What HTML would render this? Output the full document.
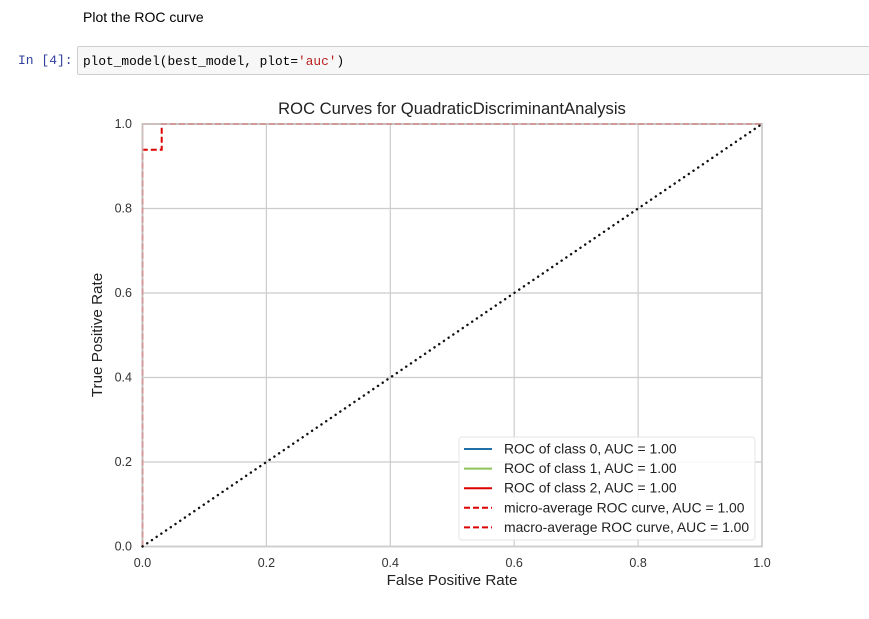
<!DOCTYPE html>
<html><head><meta charset="utf-8"><style>
body{margin:0;background:#fff;width:869px;height:619px;overflow:hidden;font-family:"Liberation Sans",sans-serif;position:relative}
.md{position:absolute;left:83px;top:9px;font-size:14px;color:#000}
.prompt{position:absolute;left:18px;top:53px;font-family:"Liberation Mono",monospace;font-size:13px;color:#303f9f}
.cell{position:absolute;left:77px;top:46px;width:800px;height:29px;background:#f7f7f7;border:1px solid #cfcfcf;border-radius:2px;font-family:"Liberation Mono",monospace;font-size:12.8px;line-height:29px;padding-left:5px;box-sizing:border-box}
</style></head><body>
<div class="md">Plot the ROC curve</div>
<div class="prompt">In [4]:</div>
<div class="cell">plot_model(best_model, plot=<span style="color:#ba2121">'auc'</span>)</div>
<svg id="chart" width="869" height="619" style="position:absolute;left:0;top:0"></svg>
<script>
const ticks=[0,0.2,0.4,0.6,0.8,1.0];
const tickLabels=["0.0","0.2","0.4","0.6","0.8","1.0"];
const class0X=[0,0,1];const class0Y=[0,1,1];
const class1X=[0,0,1];const class1Y=[0,1,1];
const class2X=[0,0,1];const class2Y=[0,1,1];
const microX=[0,0,1];const microY=[0,1,1];
const macroX=[0,0,0.031,0.031,1];const macroY=[0,0.939,0.939,1,1];
const diagX=[0,1];const diagY=[0,1];
const legendLabels=["ROC of class 0, AUC = 1.00","ROC of class 1, AUC = 1.00","ROC of class 2, AUC = 1.00","micro-average ROC curve, AUC = 1.00","macro-average ROC curve, AUC = 1.00"];
const X0=142.5,X1=762,Y0=546.5,Y1=124;
const sx=v=>X0+v*(X1-X0), sy=v=>Y0-v*(Y0-Y1);
const svg=document.getElementById('chart');const NS='http://www.w3.org/2000/svg';
function mk(t,a,p){const e=document.createElementNS(NS,t);for(const k in a)e.setAttribute(k,a[k]);(p||svg).appendChild(e);return e;}
ticks.forEach((t,i)=>{
 let g=mk('line',{x1:sx(t),x2:sx(t),y1:Y1,y2:Y0,stroke:'#cccccc','stroke-width':1.2});
 
 
 g=mk('line',{x1:X0,x2:X1,y1:sy(t),y2:sy(t),stroke:'#cccccc','stroke-width':1.2});
 
 
 let tx=mk('text',{x:sx(t),y:567,'font-size':12.5,'text-anchor':'middle',fill:'#333'});tx.textContent=tickLabels[i];
 
 
 tx=mk('text',{x:132,y:sy(t)+4,'font-size':12.5,'text-anchor':'end',fill:'#333'});tx.textContent=tickLabels[i];
 
 
});
function line(xs,ys,st,name){const p=mk('polyline',Object.assign({points:xs.map((x,i)=>sx(x)+','+sy(ys[i])).join(' '),fill:'none'},st));
 
 }
line(class0X,class0Y,{stroke:'#1f77b4','stroke-width':1.5,'stroke-opacity':0.3},'class-0-curve');
line(class1X,class1Y,{stroke:'#8fc45a','stroke-width':1.5,'stroke-opacity':0.3},'class-1-curve');
line(class2X,class2Y,{stroke:'#d62728','stroke-width':1.5,'stroke-opacity':0.3},'class-2-curve');
line(microX,microY,{stroke:'#e88','stroke-width':1.5,'stroke-dasharray':'6,3'},'micro-average-curve');
line(macroX,macroY,{stroke:'#d00','stroke-width':2,'stroke-dasharray':'6,3'},'macro-average-curve');
const fr=mk('rect',{x:X0,y:Y1,width:X1-X0,height:Y0-Y1,fill:'none',stroke:'#cccccc','stroke-width':2,'stroke-opacity':0.75});


line(diagX,diagY,{stroke:'#111','stroke-width':2.4,'stroke-dasharray':'0.1,5.6','stroke-linecap':'round'},'diagonal-reference');
let t=mk('text',{x:452,y:114,'font-size':16.6,'text-anchor':'middle',fill:'#222'});t.textContent='ROC Curves for QuadraticDiscriminantAnalysis';


t=mk('text',{x:452,y:585,'font-size':15.2,'text-anchor':'middle',fill:'#222'});t.textContent='False Positive Rate';


t=mk('text',{x:102,y:335,'font-size':15.2,'text-anchor':'middle',fill:'#222',transform:'rotate(-90 102 335)'});t.textContent='True Positive Rate';


const lg=mk('rect',{x:459,y:437,width:296,height:103,fill:'#fff','fill-opacity':0.85,stroke:'#e5e5e5',rx:3});


const lst=[{stroke:'#1f6fa8'},{stroke:'#8fc45a'},{stroke:'#d00'},{stroke:'#d00','stroke-dasharray':'6,3'},{stroke:'#d00','stroke-dasharray':'6,3'}];
legendLabels.forEach((l,i)=>{const y=449+i*19.6;
 const ln=mk('line',Object.assign({x1:464,x2:492,y1:y,y2:y,'stroke-width':2},lst[i]));
 
 
 const tx=mk('text',{x:504,y:y+4.5,'font-size':13.9,fill:'#222'});tx.textContent=l;
 
 
});
</script>
</body></html>
